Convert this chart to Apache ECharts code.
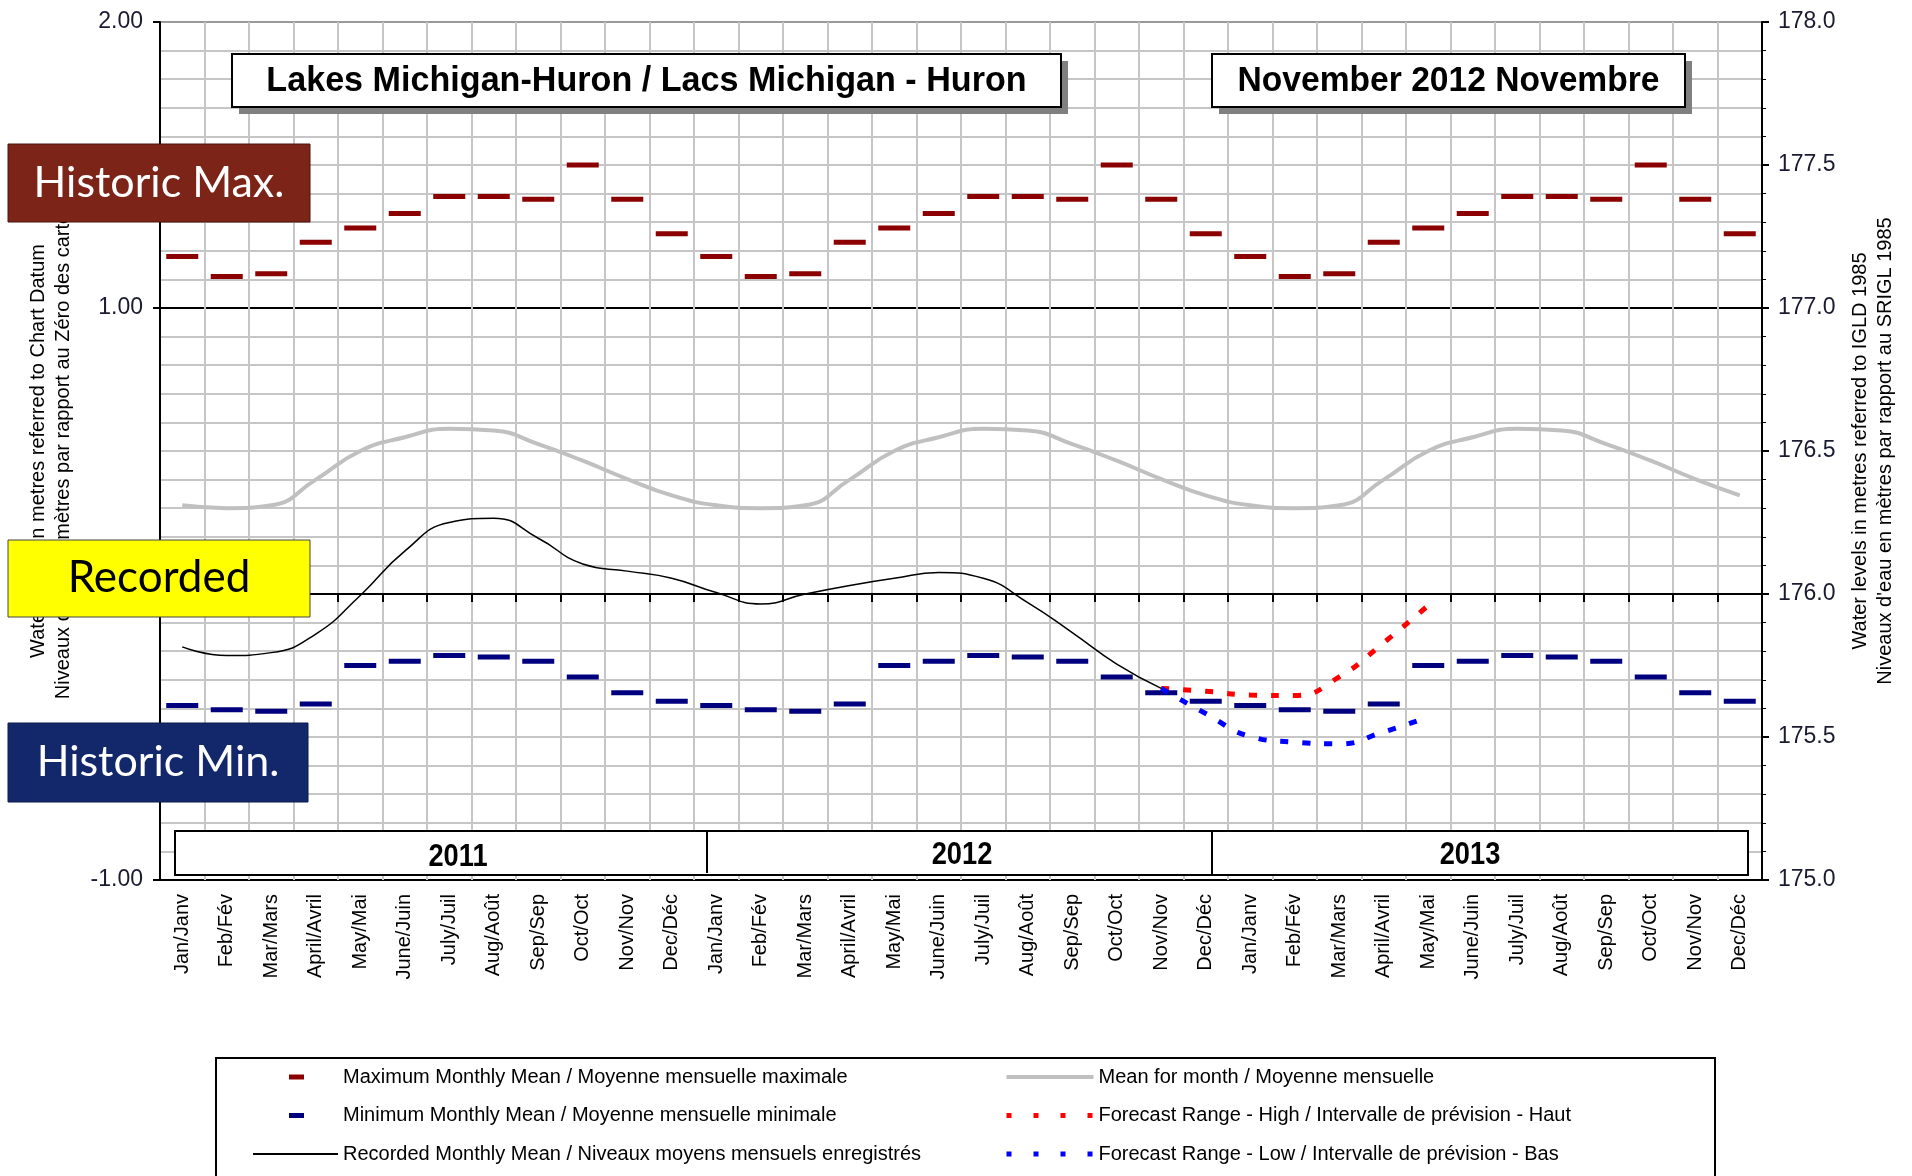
<!DOCTYPE html>
<html>
<head>
<meta charset="utf-8">
<script src="https://cdn.jsdelivr.net/npm/echarts@6/dist/echarts.min.js"></script>
<style>
html,body{margin:0;padding:0;background:#fff;}
#chart{width:1912px;height:1176px;}
</style>
</head>
<body>
<div id="chart"></div>
<script>
// ---------- data (metres above Chart Datum; IGLD 1985 = value + 176.0) ----------
const months = ['Jan/Janv','Feb/Fév','Mar/Mars','April/Avril','May/Mai','June/Juin','July/Juil','Aug/Août','Sep/Sep','Oct/Oct','Nov/Nov','Dec/Déc'];
const years = ['2011','2012','2013'];
const maxMonthly  = [1.18, 1.11, 1.12, 1.23, 1.28, 1.33, 1.39, 1.39, 1.38, 1.50, 1.38, 1.26];
const minMonthly  = [-0.39, -0.405, -0.41, -0.385, -0.25, -0.235, -0.215, -0.22, -0.235, -0.29, -0.345, -0.375];
const meanMonthly = [0.31, 0.30, 0.31, 0.40, 0.50, 0.548, 0.578, 0.572, 0.524, 0.466, 0.402, 0.345];
// Jan 2011 .. Nov 2012
const recorded = [-0.185, -0.215, -0.205, -0.14, -0.005, 0.15, 0.25, 0.265, 0.195, 0.105, 0.08, 0.055,
                  0.005, -0.035, 0.0, 0.03, 0.055, 0.075, 0.055, -0.03, -0.135, -0.245, -0.33];
// Nov 2012 .. May 2013
const forecastHigh = [-0.33, -0.34, -0.353, -0.355, -0.29, -0.17, -0.04];
const forecastLow  = [-0.33, -0.418, -0.498, -0.518, -0.524, -0.482, -0.43];
const leftTicks = [-1, 0, 1, 2];
const rightTicks = [175.0, 175.5, 176.0, 176.5, 177.0, 177.5, 178.0];

const titleText = 'Lakes Michigan-Huron / Lacs Michigan - Huron';
const dateText = 'November 2012 Novembre';
const N_MAX = 'Maximum Monthly Mean / Moyenne mensuelle maximale';
const N_MIN = 'Minimum Monthly Mean / Moyenne mensuelle minimale';
const N_REC = 'Recorded Monthly Mean / Niveaux moyens mensuels enregistrés';
const N_MEAN = 'Mean for month / Moyenne mensuelle';
const N_HIGH = 'Forecast Range - High / Intervalle de prévision - Haut';
const N_LOW = 'Forecast Range - Low / Intervalle de prévision - Bas';

// ---------- build ----------
const cats = [].concat(months, months, months);
const maxData = [].concat(maxMonthly, maxMonthly, maxMonthly);
const minData = [].concat(minMonthly, minMonthly, minMonthly);
const meanData = [].concat(meanMonthly, meanMonthly, meanMonthly);
const pad = recorded.length - 1;
const highData = Array(pad).fill('-').concat(forecastHigh);
const lowData = Array(pad).fill('-').concat(forecastLow);

const F = "'Liberation Sans', Arial, Helvetica, sans-serif";
const FB = "Lato, 'Open Sans', sans-serif";
const dashIcon = 'path://M0,0M85,10M36,2.5h15v5h-15z';
const hideSym = {opacity: 0};

const chart = echarts.init(document.getElementById('chart'));
chart.setOption({
  animation: false,
  backgroundColor: '#fff',
  grid: {left: 160, top: 22, width: 1602, height: 858, containLabel: false, outerBoundsMode: 'none'},
  xAxis: {
    type: 'category', data: cats, boundaryGap: true,
    axisLine: {lineStyle: {color: '#000', width: 2}},
    axisTick: {show: true, interval: 0, length: 8, lineStyle: {color: '#000', width: 2}},
    axisLabel: {interval: 0, rotate: 90, margin: 14, fontSize: 20, color: '#000', fontFamily: F},
    splitLine: {show: true, interval: 0, lineStyle: {color: '#c6c6c6', width: 2}}
  },
  yAxis: [{
    type: 'value', min: leftTicks[0], max: leftTicks[leftTicks.length-1], interval: 1, position: 'left',
    axisLine: {show: true, lineStyle: {color: '#000', width: 2}},
    axisTick: {show: true, length: 7, lineStyle: {color: '#000', width: 2}},
    axisLabel: {formatter: v => v.toFixed(2), fontSize: 23, margin: 17, color: '#1a1a30', fontFamily: F},
    splitLine: {show: true, lineStyle: {color: ['#000', '#000', '#000', '#9a9a9a'], width: 2}},
    minorTick: {show: false, splitNumber: 10},
    minorSplitLine: {show: true, lineStyle: {color: '#c6c6c6', width: 2}},
    name: 'Water levels in metres referred to Chart Datum\nNiveaux d\'eau en mètres par rapport au Zéro des cartes',
    nameLocation: 'middle', nameRotate: 90, nameGap: 84, nameMoveOverlap: false,
    nameTextStyle: {fontSize: 20, lineHeight: 25, color: '#000', fontFamily: F}
  }, {
    type: 'value', min: rightTicks[0], max: rightTicks[rightTicks.length-1], interval: 0.5, position: 'right',
    axisLine: {show: true, lineStyle: {color: '#000', width: 2}},
    axisTick: {show: true, length: 7, lineStyle: {color: '#000', width: 2}},
    minorTick: {show: true, splitNumber: 5, length: 4, lineStyle: {color: '#000', width: 1}},
    axisLabel: {formatter: v => v.toFixed(1), fontSize: 23, margin: 16, color: '#1a1a30', fontFamily: F},
    splitLine: {show: false},
    name: 'Water levels in metres referred to IGLD 1985\nNiveaux d\'eau en mètres par rapport au SRIGL 1985',
    nameLocation: 'middle', nameRotate: 90, nameGap: 86, nameMoveOverlap: false,
    nameTextStyle: {fontSize: 20, lineHeight: 25, color: '#000', fontFamily: F}
  }],
  legend: [{
    left: 252, top: 1067, padding: 0, orient: 'vertical', itemWidth: 85, itemHeight: 10, itemGap: 18.5,
    selectedMode: false,
    textStyle: {fontSize: 20, lineHeight: 20, color: '#000', fontFamily: F},
    data: [{name: N_MAX, icon: dashIcon}, {name: N_MIN, icon: dashIcon}, {name: N_REC, itemStyle: hideSym}]
  }, {
    left: 1004, top: 1067, padding: 0, orient: 'vertical', itemWidth: 87, itemHeight: 10, itemGap: 18.5,
    selectedMode: false,
    textStyle: {fontSize: 20, lineHeight: 20, color: '#000', fontFamily: F},
    data: [{name: N_MEAN, itemStyle: hideSym, lineStyle: {width: 4}},
           {name: N_HIGH, itemStyle: hideSym, lineStyle: {type: [5, 22], width: 5}},
           {name: N_LOW, itemStyle: hideSym, lineStyle: {type: [5, 22], width: 5}}]
  }],
  series: [
    {name: N_MEAN, type: 'line', data: meanData, smooth: true, symbol: 'none', silent: true, z: 2,
     lineStyle: {color: '#c0c0c0', width: 4}, itemStyle: {color: '#c0c0c0'}},
    {name: N_MAX, type: 'scatter', data: maxData, symbol: 'rect', symbolSize: [32, 5], silent: true, z: 3,
     itemStyle: {color: '#8b0000', opacity: 1}},
    {name: N_MIN, type: 'scatter', data: minData, symbol: 'rect', symbolSize: [32, 5], silent: true, z: 3,
     itemStyle: {color: '#00007f', opacity: 1}},
    {name: N_REC, type: 'line', data: recorded, smooth: true, symbol: 'none', silent: true, z: 5,
     lineStyle: {color: '#000', width: 1.5}, itemStyle: {color: '#000'}},
    {name: N_HIGH, type: 'line', data: highData, smooth: true, symbol: 'none', silent: true, z: 4,
     lineStyle: {color: '#ff0000', width: 5, type: [8, 14]}, itemStyle: {color: '#ff0000'}},
    {name: N_LOW, type: 'line', data: lowData, smooth: true, symbol: 'none', silent: true, z: 4,
     lineStyle: {color: '#0000ff', width: 5, type: [8, 14]}, itemStyle: {color: '#0000ff'}}
  ],
  graphic: {elements: [
    // title boxes
    {type: 'rect', z: 10, shape: {x: 239, y: 61, width: 829, height: 53}, style: {fill: '#808080'}},
    {type: 'rect', z: 10, shape: {x: 232, y: 54, width: 829, height: 53}, style: {fill: '#fff', stroke: '#000', lineWidth: 2}},
    {type: 'text', z: 11, x: 646.5, y: 81, scaleX: 0.975,
     style: {text: titleText, fill: '#000', font: 'bold 35px ' + F, align: 'center', verticalAlign: 'middle', textAlign: 'center', textVerticalAlign: 'middle'}},
    {type: 'rect', z: 10, shape: {x: 1219, y: 61, width: 473, height: 53}, style: {fill: '#808080'}},
    {type: 'rect', z: 10, shape: {x: 1212, y: 54, width: 473, height: 53}, style: {fill: '#fff', stroke: '#000', lineWidth: 2}},
    {type: 'text', z: 11, x: 1448.5, y: 81, scaleX: 0.96,
     style: {text: dateText, fill: '#000', font: 'bold 35px ' + F, align: 'center', verticalAlign: 'middle', textAlign: 'center', textVerticalAlign: 'middle'}},
    // year boxes
    {type: 'rect', z: 10, shape: {x: 175, y: 831, width: 1573, height: 44}, style: {fill: '#fff', stroke: '#000', lineWidth: 2}},
    {type: 'line', z: 11, shape: {x1: 707, y1: 831, x2: 707, y2: 873}, style: {stroke: '#000', lineWidth: 2}},
    {type: 'line', z: 11, shape: {x1: 1212, y1: 831, x2: 1212, y2: 875}, style: {stroke: '#000', lineWidth: 2}},
    {type: 'text', z: 11, x: 458, y: 857, scaleX: 0.88,
     style: {text: years[0], fill: '#000', font: 'bold 31px ' + F, align: 'center', verticalAlign: 'middle', textAlign: 'center', textVerticalAlign: 'middle'}},
    {type: 'text', z: 11, x: 962, y: 855, scaleX: 0.88,
     style: {text: years[1], fill: '#000', font: 'bold 31px ' + F, align: 'center', verticalAlign: 'middle', textAlign: 'center', textVerticalAlign: 'middle'}},
    {type: 'text', z: 11, x: 1470, y: 855, scaleX: 0.88,
     style: {text: years[2], fill: '#000', font: 'bold 31px ' + F, align: 'center', verticalAlign: 'middle', textAlign: 'center', textVerticalAlign: 'middle'}},
    // legend frame
    {type: 'rect', z: 1, shape: {x: 216, y: 1058, width: 1499, height: 150}, style: {fill: 'none', stroke: '#000', lineWidth: 2}},
    // overlay tags
    {type: 'rect', z: 100, shape: {x: 8, y: 144, width: 302, height: 78}, style: {fill: '#7b2417', stroke: '#4a140c', lineWidth: 1}},
    {type: 'text', z: 101, x: 159, y: 183,
     style: {text: 'Historic Max.', fill: '#fff', font: '43px ' + FB, align: 'center', verticalAlign: 'middle', textAlign: 'center', textVerticalAlign: 'middle'}},
    {type: 'rect', z: 100, shape: {x: 8, y: 540, width: 302, height: 77}, style: {fill: '#ffff00', stroke: '#444', lineWidth: 1}},
    {type: 'text', z: 101, x: 159, y: 578,
     style: {text: 'Recorded', fill: '#000', font: '44px ' + FB, align: 'center', verticalAlign: 'middle', textAlign: 'center', textVerticalAlign: 'middle'}},
    {type: 'rect', z: 100, shape: {x: 8, y: 723, width: 300, height: 79}, style: {fill: '#13286b', stroke: '#0b1a4a', lineWidth: 1}},
    {type: 'text', z: 101, x: 158, y: 762,
     style: {text: 'Historic Min.', fill: '#fff', font: '43px ' + FB, align: 'center', verticalAlign: 'middle', textAlign: 'center', textVerticalAlign: 'middle'}}
  ]}
});
</script>
</body>
</html>
